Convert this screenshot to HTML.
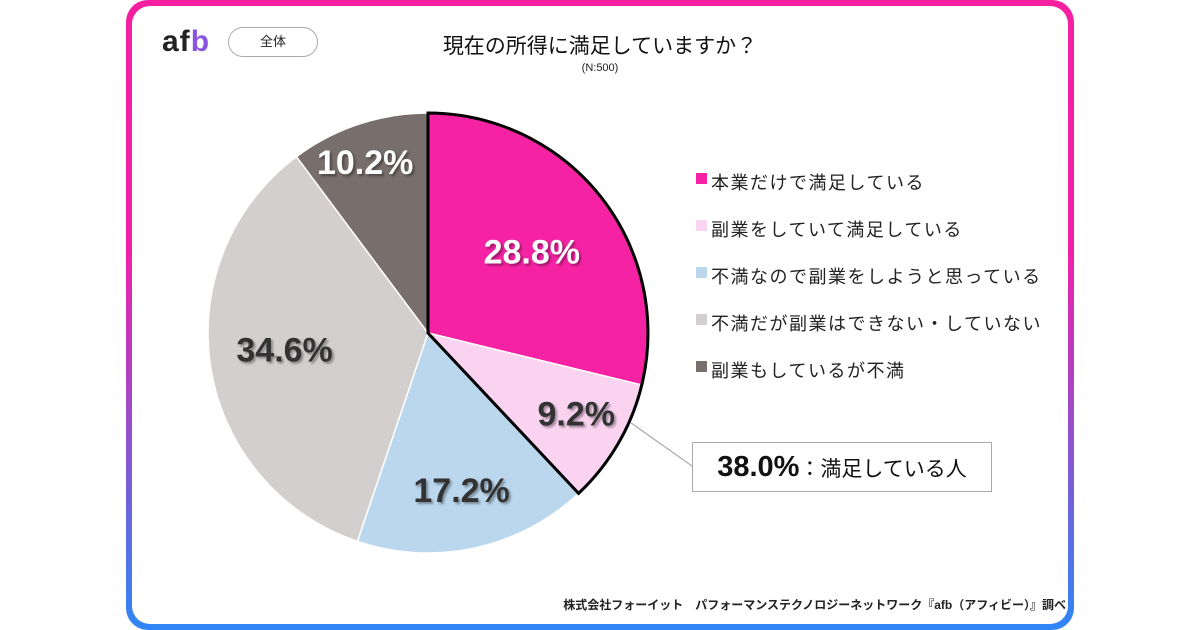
<!DOCTYPE html>
<html><head><meta charset="utf-8"><style>
body{margin:0;width:1200px;height:630px;background:#fff;overflow:hidden;font-family:"Liberation Sans","Noto Sans CJK JP",sans-serif;}
#frame{position:absolute;left:126px;top:0;width:948px;height:630px;border-radius:22px;background:linear-gradient(#f51fa0 0%,#f020a8 40%,#2f86f5 100%);}
#inner{position:absolute;left:6px;top:6px;right:6px;bottom:6px;border-radius:18px;background:#fff;}
.abs{position:absolute;}
</style></head><body>
<div id="frame"><div id="inner"></div></div>
<div class="abs" style="left:162px;top:26px;font-size:30px;font-weight:bold;letter-spacing:1px;color:#222;line-height:32px">af<span style="color:#8a55e0">b</span></div>
<div class="abs" style="left:228px;top:27px;width:88px;height:28px;border:1px solid #aaa;border-radius:15px;text-align:center;line-height:28px;font-size:13px;color:#222">全体</div>
<div class="abs" style="left:380px;top:30px;width:440px;text-align:center;font-size:21px;color:#111">現在の所得に満足していますか？</div>
<div class="abs" style="left:540px;top:62px;width:120px;text-align:center;font-size:11px;color:#222">(N:500)</div>
<svg class="abs" style="left:0;top:0" width="1200" height="630" id="chart"></svg>
<div class="abs" style="left:692px;top:442px;width:298px;height:48px;border:1px solid #aaa;background:#fff;line-height:48px;font-size:21px;color:#111;text-align:center"><b style="font-size:29px">38.0%</b>：満足している人</div>
<div class="abs" style="right:134px;top:596px;font-size:12px;font-weight:bold;color:#222">株式会社フォーイット　パフォーマンステクノロジーネットワーク『afb（アフィビー）』調べ</div>
<script>
const categories=["本業だけで満足している","副業をしていて満足している","不満なので副業をしようと思っている","不満だが副業はできない・していない","副業もしているが不満"];
const values=[28.8,9.2,17.2,34.6,10.2];
const colors=["#f523a3","#fad3f1","#bbd7ee","#d4cfcf","#786e6c"];
const labelColors=["#fff","#333","#333","#333","#fff"];
const svg=document.getElementById('chart');const NS="http://www.w3.org/2000/svg";
const cx=428,cy=333,r=220;
const total=values.reduce((a,b)=>a+b,0);
function pt(a,rr){return [cx+rr*Math.sin(a),cy-rr*Math.cos(a)];}
let a0=0;const angles=[];
values.forEach((v,i)=>{const a1=a0+v/total*2*Math.PI;angles.push([a0,a1]);
const p0=pt(a0,r),p1=pt(a1,r);const large=(a1-a0)>Math.PI?1:0;
const p=document.createElementNS(NS,'path');
p.setAttribute('d',`M${cx},${cy}L${p0[0]},${p0[1]}A${r},${r} 0 ${large} 1 ${p1[0]},${p1[1]}Z`);
p.setAttribute('fill',colors[i]);p.setAttribute('stroke','#fff');p.setAttribute('stroke-width','1.5');


svg.appendChild(p);a0=a1;});
const s1=(values[0]+values[1])/total*2*Math.PI;
const q1=pt(s1,r);
const ol=document.createElementNS(NS,'path');
ol.setAttribute('d',`M${cx},${cy}L${cx},${cy-r}A${r},${r} 0 ${s1>Math.PI?1:0} 1 ${q1[0]},${q1[1]}Z`);
ol.setAttribute('fill','none');ol.setAttribute('stroke','#000');ol.setAttribute('stroke-width','3');


svg.appendChild(ol);
const lm=pt(s1-0.4,r+2);
const ln=document.createElementNS(NS,'line');
ln.setAttribute('x1',lm[0]);ln.setAttribute('y1',lm[1]);ln.setAttribute('x2',692);ln.setAttribute('y2',466);
ln.setAttribute('stroke','#999');ln.setAttribute('stroke-width','1');


svg.appendChild(ln);
const lr=[0.6,0.78,0.72,0.66,0.82];
const lo=[0,-6,2,-6,0];
values.forEach((v,i)=>{const m=(angles[i][0]+angles[i][1])/2;const p=pt(m,r*lr[i]);
const t=document.createElementNS(NS,'text');
t.setAttribute('x',p[0]+(i==4?-6:0));t.setAttribute('y',p[1]+12+lo[i]);t.setAttribute('text-anchor','middle');
t.setAttribute('font-size','34');t.setAttribute('font-weight','bold');t.setAttribute('fill',labelColors[i]);
t.setAttribute('style','filter:drop-shadow(2px 2px 1px rgba(0,0,0,0.35))');
t.textContent=v.toFixed(1)+'%';


svg.appendChild(t);});
categories.forEach((c,i)=>{const y=183+i*47;
const rc=document.createElementNS(NS,'rect');rc.setAttribute('x',696);rc.setAttribute('y',y-10);rc.setAttribute('width',11);rc.setAttribute('height',11);rc.setAttribute('fill',colors[i]);


svg.appendChild(rc);
const t=document.createElementNS(NS,'text');t.setAttribute('x',711);t.setAttribute('y',y+6);t.setAttribute('font-size','18');t.setAttribute('fill','#222');t.setAttribute('letter-spacing','1.5');t.textContent=c;


svg.appendChild(t);});
</script>
</body></html>
